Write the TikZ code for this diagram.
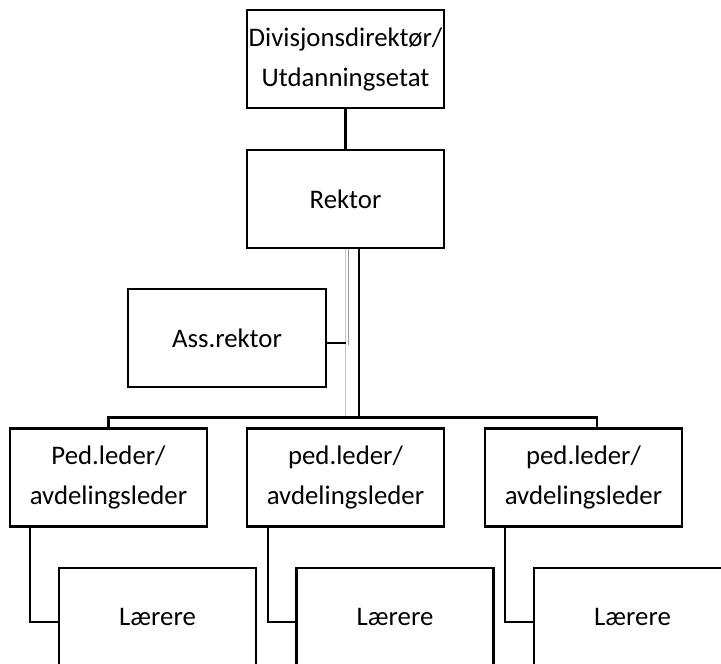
\documentclass[tikz,border=0pt]{standalone}
\usepackage{fontspec}
\setmainfont{Carlito}
\begin{document}
\begin{tikzpicture}[x=1pt,y=-1pt,
  box/.style={draw=black, line width=2.6pt, fill=white, minimum width=197pt, minimum height=98pt, inner sep=0pt, align=center, font=\fontsize{26.8}{40}\selectfont},
  conn/.style={draw=black, line width=2.6pt}]
\useasboundingbox (0,0) rectangle (721,664);
\clip (0,0) rectangle (721,664);
\node[box] (top) at (345.5,59) {Divisjonsdirektør/\\Utdanningsetat};
\node[box] (rektor) at (345.5,199) {Rektor};
\node[box, minimum width=198pt] (ass) at (227,338) {Ass.rektor};
\node[box] (ped1) at (108.5,477.5) {Ped.leder/\\avdelingsleder};
\node[box] (ped2) at (345.5,477.5) {ped.leder/\\avdelingsleder};
\node[box] (ped3) at (583.5,477.5) {ped.leder/\\avdelingsleder};
\node[box] (L1) at (157.5,617) {Lærere};
\node[box] (L2) at (395,617) {Lærere};
\node[box] (L3) at (632.5,617) {Lærere};
\draw[conn] (top.south) -- (rektor.north);
\draw[gray!45, line width=0.8pt] ([xshift=-0.5pt]rektor.south) -- ++(0,168);
\draw[gray!80, line width=1pt] ([xshift=2.5pt]rektor.south) -- ++(0,96);
\draw[conn] ([yshift=-5pt]ass.east) -- ++(19,0);
\draw[conn] ([xshift=13.5pt]rektor.south) -- ++(0,168) coordinate (barR);
\draw[conn] (ped1.north) |- (barR);
\draw[conn] (barR) -| ([xshift=13.5pt]ped3.north);
\draw[conn] ([xshift=-78.5pt]ped1.south) |- ([yshift=-5pt]L1.west);
\draw[conn] ([xshift=-77.5pt]ped2.south) |- ([yshift=-5pt]L2.west);
\draw[conn] ([xshift=-78.5pt]ped3.south) |- ([yshift=-5pt]L3.west);
\end{tikzpicture}
\end{document}
